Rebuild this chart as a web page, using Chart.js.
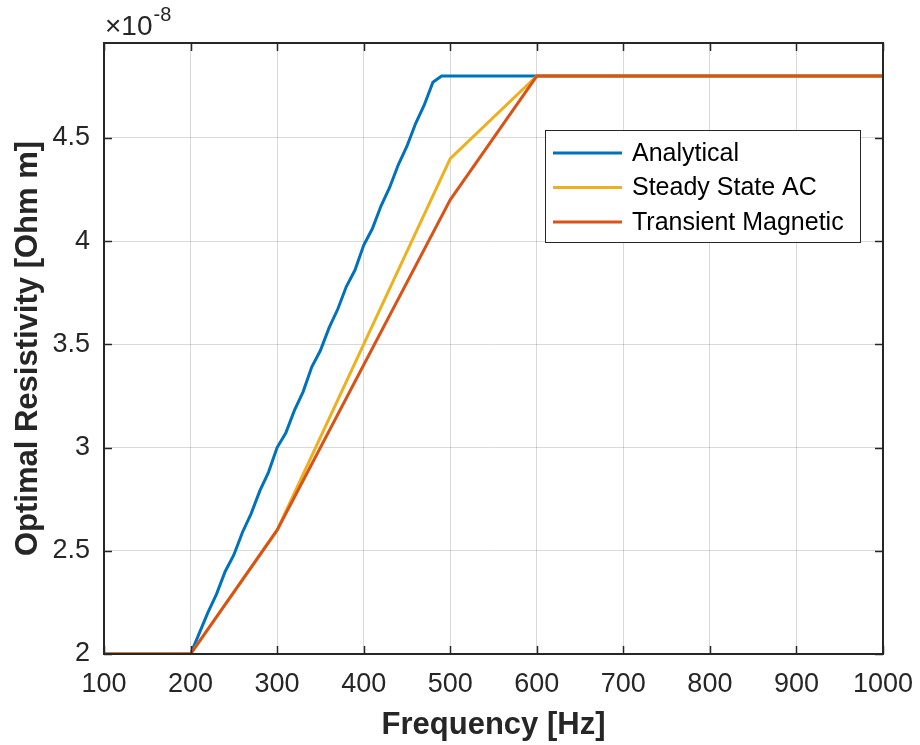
<!DOCTYPE html>
<html>
<head>
<meta charset="utf-8">
<script src="https://cdn.jsdelivr.net/npm/chart.js@4.4.1/dist/chart.umd.min.js"></script>
<style>
html,body{margin:0;padding:0;background:#fff;}
#wrap{width:920px;height:745px;position:relative;}
</style>
</head>
<body>
<div id="wrap"><canvas id="c" width="920" height="745"></canvas></div>
<script>
// ---- data (resistivity in units of 1e-8 Ohm m) ----
const exponentLabel = "-8";
const analyticalFreq = [100,200,210,220,230,240,250,260,270,280,290,300,310,320,330,340,350,360,370,380,390,400,410,420,430,440,450,460,470,480,490,1000];
const analyticalRho  = [2.0,2.0,2.1,2.2,2.29,2.4,2.48,2.59,2.68,2.79,2.88,3.0,3.07,3.18,3.27,3.39,3.47,3.58,3.67,3.78,3.86,3.98,4.06,4.17,4.26,4.37,4.46,4.57,4.66,4.77,4.8,4.8];
const steadyFreq = [100,200,300,400,500,600,700,800,900,1000];
const steadyRho  = [2.0,2.0,2.6,3.5,4.4,4.8,4.8,4.8,4.8,4.8];
const transientFreq = [100,200,300,400,500,600,700,800,900,1000];
const transientRho  = [2.0,2.0,2.6,3.4,4.2,4.8,4.8,4.8,4.8,4.8];
const seriesNames = ["Analytical","Steady State AC","Transient Magnetic"];
const xTicks = [100,200,300,400,500,600,700,800,900,1000];
const yTicks = [2,2.5,3,3.5,4,4.5];

const colors = ["#0072BD","#EDB120","#D95319"];
const pts = (xs, ys) => xs.map((x,i)=>({x:x,y:ys[i]}));

const FONT = "'Liberation Sans', Arial, Helvetica, sans-serif";

const boxPlugin = {
  id:'boxPlugin',
  afterDraw(chart){
    const {ctx, chartArea:a, scales} = chart;
    ctx.save();
    ctx.strokeStyle = '#262626';
    ctx.lineWidth = 1.5;
    const tl = 8;
    xTicks.forEach(v=>{
      const x = Math.round(scales.x.getPixelForValue(v))+0.5;
      ctx.beginPath(); ctx.moveTo(x,a.bottom); ctx.lineTo(x,a.bottom-tl); ctx.stroke();
      ctx.beginPath(); ctx.moveTo(x,a.top); ctx.lineTo(x,a.top+tl); ctx.stroke();
    });
    yTicks.forEach(v=>{
      const y = Math.round(scales.y.getPixelForValue(v))+0.5;
      ctx.beginPath(); ctx.moveTo(a.left,y); ctx.lineTo(a.left+tl,y); ctx.stroke();
      ctx.beginPath(); ctx.moveTo(a.right,y); ctx.lineTo(a.right-tl,y); ctx.stroke();
    });
    ctx.lineWidth = 2;
    ctx.strokeRect(a.left, a.top, a.right-a.left, a.bottom-a.top);
    // exponent label
    ctx.fillStyle = '#262626';
    ctx.textBaseline = 'alphabetic';
    ctx.textAlign = 'left';
    ctx.font = "28px " + FONT;
    ctx.fillText("\u00d710", a.left+1, a.top-8);
    const w = ctx.measureText("\u00d710").width;
    ctx.font = "20px " + FONT;
    ctx.fillText(exponentLabel, a.left+2+w, a.top-22);
    // legend
    const lx = 545, ly = 130, lw = 315, lh = 112;
    ctx.fillStyle = '#fff';
    ctx.fillRect(lx, ly, lw, lh);
    ctx.strokeStyle = '#262626';
    ctx.lineWidth = 1;
    ctx.strokeRect(lx+0.5, ly+0.5, lw, lh);
    ctx.font = "25px " + FONT;
    ctx.textBaseline = 'middle';
    seriesNames.forEach((n,i)=>{
      const y = ly + 23 + i*34.5;
      ctx.strokeStyle = colors[i];
      ctx.lineWidth = 3;
      ctx.beginPath(); ctx.moveTo(lx+8,y); ctx.lineTo(lx+77,y); ctx.stroke();
      ctx.fillStyle = '#000';
      ctx.fillText(n, lx+87, y+1);
    });
    ctx.restore();
  }
};

new Chart(document.getElementById('c'), {
  type:'line',
  data:{
    datasets:[
      {label:seriesNames[0], data:pts(analyticalFreq, analyticalRho), borderColor:colors[0], order:2},
      {label:seriesNames[1], data:pts(steadyFreq, steadyRho), borderColor:colors[1], order:1},
      {label:seriesNames[2], data:pts(transientFreq, transientRho), borderColor:colors[2], order:0}
    ]
  },
  options:{
    responsive:false,
    animation:false,
    layout:{padding:{top:43,right:37,left:0,bottom:0}},
    elements:{
      line:{borderWidth:3, tension:0, fill:false},
      point:{radius:0}
    },
    plugins:{legend:{display:false}, tooltip:{enabled:false}},
    scales:{
      x:{
        type:'linear', min:100, max:1000,
        afterBuildTicks(s){ s.ticks = xTicks.map(v=>({value:v})); },
        afterFit(s){ s.height = 91; s.paddingLeft = 0; s.paddingRight = 0; },
        grid:{color:'rgba(0,0,0,0.15)', drawTicks:false, lineWidth:1},
        border:{display:false},
        ticks:{color:'#262626', font:{family:FONT, size:27}, padding:14, maxRotation:0, autoSkip:false,
               callback:v=>String(v)},
        title:{display:true, text:'Frequency [Hz]', color:'#262626', font:{family:FONT, size:31, weight:'bold'}, padding:{top:0,bottom:1}}
      },
      y:{
        type:'linear', min:2, max:4.96,
        afterBuildTicks(s){ s.ticks = yTicks.map(v=>({value:v})); },
        afterFit(s){ s.width = 104; s.paddingTop = 0; s.paddingBottom = 0; },
        grid:{color:'rgba(0,0,0,0.15)', drawTicks:false, lineWidth:1},
        border:{display:false},
        ticks:{color:'#262626', font:{family:FONT, size:27}, padding:14, autoSkip:false,
               callback:v=>String(v)},
        title:{display:true, text:'Optimal Resistivity [Ohm m]', color:'#262626', font:{family:FONT, size:31, weight:'bold'}, padding:{top:10,bottom:0}}
      }
    }
  },
  plugins:[boxPlugin]
});
</script>
</body>
</html>
